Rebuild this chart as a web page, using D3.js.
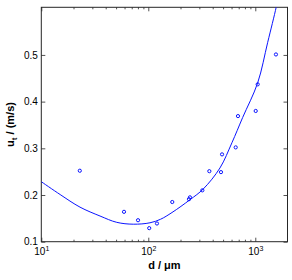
<!DOCTYPE html>
<html>
<head>
<meta charset="utf-8">
<script src="https://cdn.jsdelivr.net/npm/d3@7"></script>
<style>
  html, body { margin: 0; padding: 0; background: #fff; }
  svg { display: block; }
  text { font-family: "Liberation Sans", Arial, Helvetica, sans-serif; }
</style>
</head>
<body>
<svg id="chart" width="292" height="280"></svg>
<script>
// Measured points: particle diameter d (µm) and terminal velocity u_t (m/s)
const pointD  = [22.9, 59.3, 80.2, 102, 120.5, 167.5, 240, 245, 320, 372, 478, 489, 656, 689, 1009, 1053, 1560];
const pointU  = [0.252, 0.164, 0.146, 0.129, 0.139, 0.185, 0.191, 0.195, 0.210, 0.251, 0.249, 0.287, 0.302, 0.369, 0.380, 0.437, 0.501];

// Fitted curve
const curveD = [10, 15, 23, 35.4, 50.7, 72.4, 103.7, 130, 166.5, 245.5, 326.7, 467.7, 605, 762, 1052, 1306, 1567, 1640];
const curveU = [0.2285, 0.201, 0.174, 0.155, 0.1415, 0.1375, 0.1405, 0.148, 0.1625, 0.19, 0.213, 0.258, 0.312, 0.366, 0.44, 0.527, 0.602, 0.625];

// Axes
const xDomain = [10, 2000];
const yDomain = [0.1, 0.602];
const xMajorTicks = [10, 100, 1000];
const xMinorTicks = [20, 30, 40, 50, 60, 70, 80, 90, 200, 300, 400, 500, 600, 700, 800, 900];
const yTicks = [0.1, 0.2, 0.3, 0.4, 0.5];
const yTickLabels = ["0.1", "0.2", "0.3", "0.4", "0.5"];
const xLabel = "d / \u03bcm";

const svg = d3.select("#chart");
const L = 41.3, R = 287.5, T = 7.3, B = 241.7;

const x = d3.scaleLog().domain(xDomain).range([L, R]);
const y = d3.scaleLinear().domain(yDomain).range([B, T]);

const axisColor = "#262626";
const blue = "#0a14ff";

function styleAxis(g) {
  g.select(".domain").remove();
  g.selectAll(".tick line").attr("stroke", axisColor).attr("stroke-width", 0.8);
}

// bottom major + labels
const gx = svg.append("g").attr("transform", `translate(0,${B})`)
  .call(d3.axisBottom(x).tickValues(xMajorTicks).tickSize(-4).tickPadding(5).tickFormat(""));
styleAxis(gx);
gx.selectAll(".tick").each(function(d) {
  const t = d3.select(this).select("text")
    .attr("fill", "#000").attr("font-size", 10).attr("text-anchor", "middle")
    .attr("y", 13.5).attr("dy", null).attr("x", 0);
  t.append("tspan").text("10");
  t.append("tspan").attr("font-size", 7).attr("dy", -4.5).text(String(Math.round(Math.log10(d))));
});
// bottom minor
styleAxis(svg.append("g").attr("transform", `translate(0,${B})`)
  .call(d3.axisBottom(x).tickValues(xMinorTicks).tickSize(-2).tickFormat("")));
// top major + minor
styleAxis(svg.append("g").attr("transform", `translate(0,${T})`)
  .call(d3.axisTop(x).tickValues(xMajorTicks).tickSize(-4).tickFormat("")));
styleAxis(svg.append("g").attr("transform", `translate(0,${T})`)
  .call(d3.axisTop(x).tickValues(xMinorTicks).tickSize(-2).tickFormat("")));

// left
const gy = svg.append("g").attr("transform", `translate(${L},0)`)
  .call(d3.axisLeft(y).tickValues(yTicks).tickSize(-4).tickPadding(3.5)
    .tickFormat((d, i) => yTickLabels[i]));
styleAxis(gy);
gy.selectAll(".tick text").attr("fill", "#000").attr("font-size", 10)
  .attr("font-family", "Liberation Sans, Arial, sans-serif");
// right
styleAxis(svg.append("g").attr("transform", `translate(${R},0)`)
  .call(d3.axisRight(y).tickValues(yTicks).tickSize(-4).tickFormat("")));

// box
svg.append("rect").attr("x", L).attr("y", T).attr("width", R - L).attr("height", B - T)
  .attr("fill", "none").attr("stroke", axisColor).attr("stroke-width", 1);

// clip
svg.append("clipPath").attr("id", "clip").append("rect")
  .attr("x", L).attr("y", T).attr("width", R - L).attr("height", B - T);

// curve
const curveData = curveD.map((d, i) => [d, curveU[i]]);
svg.append("path").datum(curveData)
  .attr("clip-path", "url(#clip)")
  .attr("fill", "none").attr("stroke", blue).attr("stroke-width", 1)
  .attr("d", d3.line().x(d => x(d[0])).y(d => y(d[1])).curve(d3.curveCatmullRom.alpha(0.5)));

// points
svg.append("g").selectAll("circle")
  .data(pointD.map((d, i) => [d, pointU[i]]))
  .join("circle")
  .attr("cx", d => x(d[0])).attr("cy", d => y(d[1])).attr("r", 1.6)
  .attr("fill", "none").attr("stroke", blue).attr("stroke-width", 1);

// axis labels
svg.append("text").attr("x", (L + R) / 2).attr("y", 268.5)
  .attr("text-anchor", "middle").attr("font-size", 11).attr("font-weight", "bold")
  .attr("fill", "#000").text(xLabel);

const yl = svg.append("text")
  .attr("transform", `translate(14,${(T + B) / 2}) rotate(-90)`)
  .attr("text-anchor", "middle").attr("font-size", 11).attr("font-weight", "bold")
  .attr("fill", "#000");
yl.append("tspan").text("u");
yl.append("tspan").attr("font-size", 8).attr("dy", 3).text("t");
yl.append("tspan").attr("dy", -3).text(" / (m/s)");
</script>
</body>
</html>
